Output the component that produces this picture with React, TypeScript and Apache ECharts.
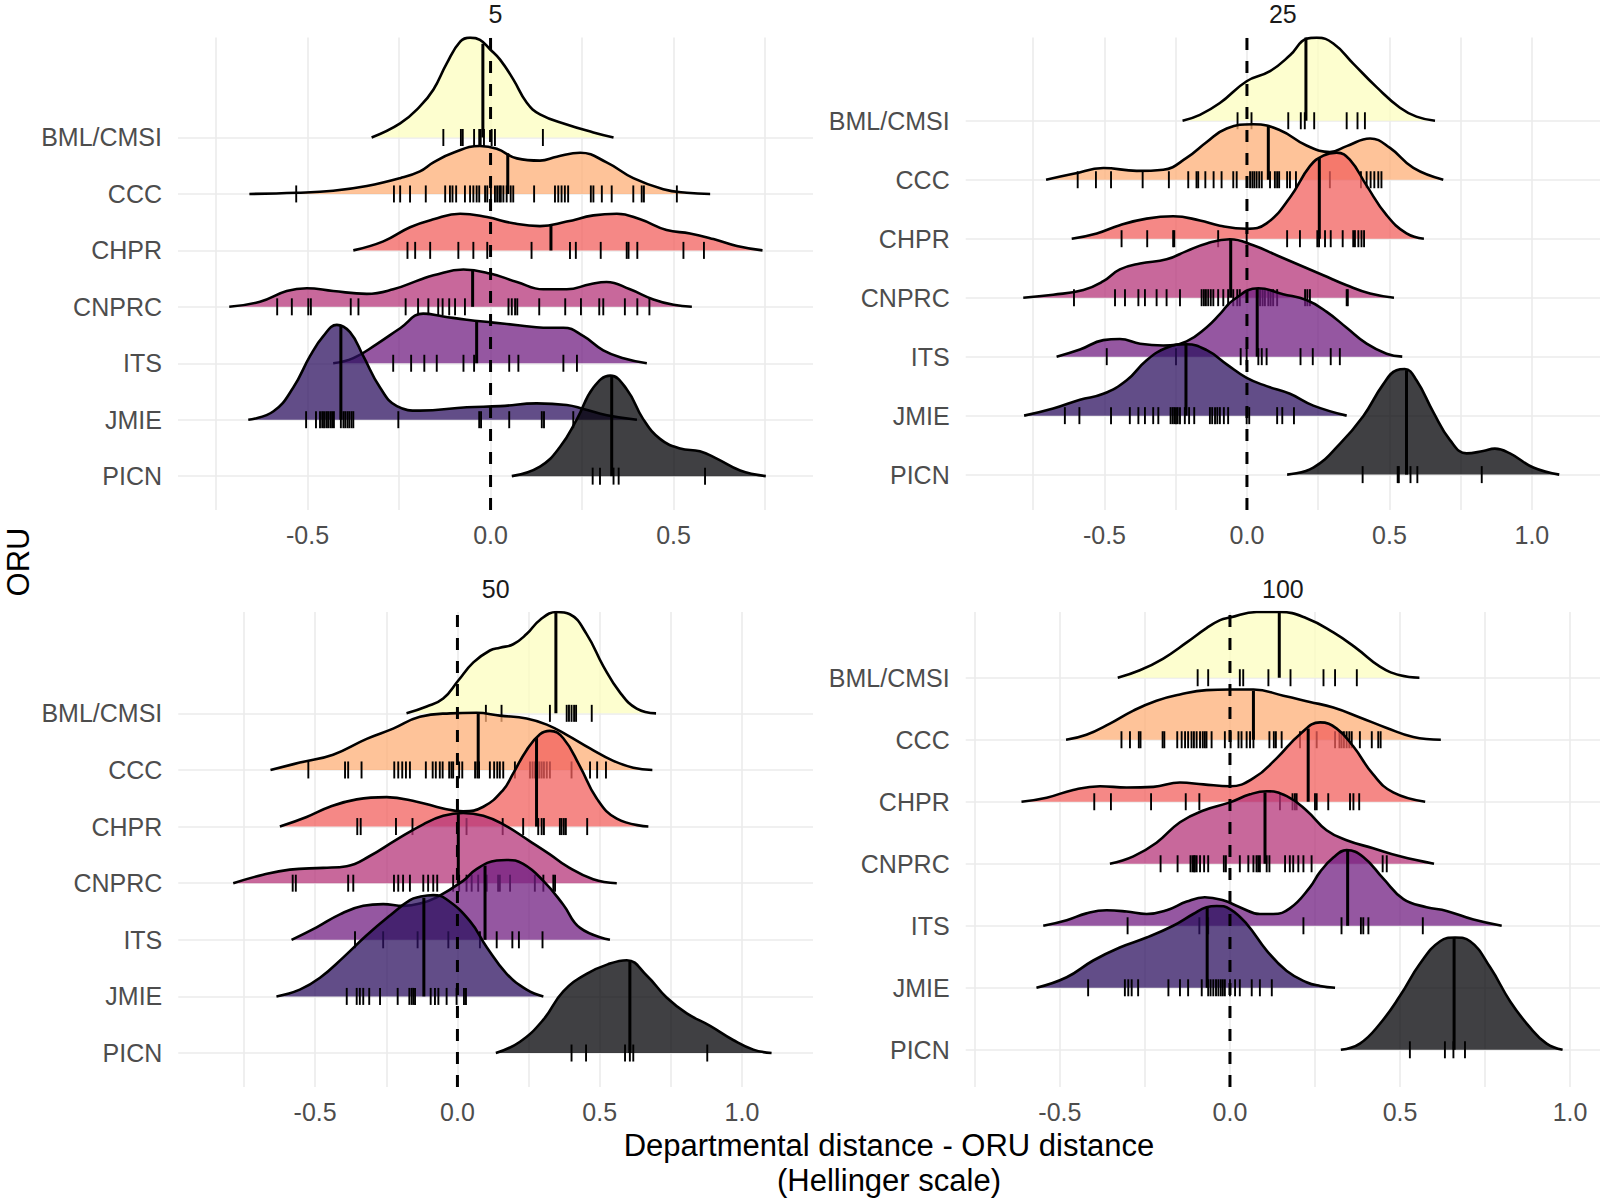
import React, { useEffect, useRef } from "react";
import * as echarts from "echarts";

// ---------- categories / palette ----------
const ORUS = ["BML/CMSI", "CCC", "CHPR", "CNPRC", "ITS", "JMIE", "PICN"];
const FILLS = ["#FCFDBF", "#FEAF77", "#F1605D", "#B63679", "#721F81", "#2D1160", "#000004"];
const PANEL_TITLES = ["5", "25", "50", "100"];
const X_TITLE = ["Departmental distance - ORU distance", "(Hellinger scale)"];
const Y_TITLE = "ORU";
const TICKS_A = [-0.5, 0, 0.5];
const TICKS_B = [-0.5, 0, 0.5, 1];
const GRID_A = [-0.75, -0.5, -0.25, 0, 0.25, 0.5, 0.75];
const GRID_B = [-0.75, -0.5, -0.25, 0, 0.25, 0.5, 0.75, 1];

// ---------- panel "5": density heights (in ridge rows) ----------
const d5_BML = [[-0.325,0],[-0.247,0.25],[-0.193,0.55],[-0.156,0.85],[-0.12,1.31],[-0.083,1.7],[-0.056,1.77],[-0.029,1.73],[-0.001,1.56],[0.026,1.38],[0.062,1.03],[0.099,0.615],[0.135,0.41],[0.208,0.23],[0.281,0.09],[0.336,0]];
const d5_CCC = [[-0.659,0],[-0.53,0.02],[-0.43,0.056],[-0.338,0.14],[-0.247,0.28],[-0.193,0.4],[-0.156,0.56],[-0.102,0.73],[-0.029,0.85],[0.017,0.8],[0.072,0.63],[0.135,0.59],[0.181,0.66],[0.245,0.73],[0.317,0.56],[0.39,0.28],[0.472,0.084],[0.536,0.02],[0.6,0]];
const d5_CHPR = [[-0.375,0],[-0.293,0.16],[-0.22,0.41],[-0.156,0.55],[-0.083,0.65],[-0.01,0.59],[0.062,0.48],[0.135,0.43],[0.208,0.51],[0.281,0.62],[0.345,0.65],[0.409,0.55],[0.481,0.36],[0.545,0.3],[0.609,0.2],[0.673,0.077],[0.743,0]];
const d5_CNPRC = [[-0.714,0],[-0.63,0.09],[-0.557,0.28],[-0.502,0.33],[-0.43,0.28],[-0.338,0.23],[-0.266,0.31],[-0.193,0.48],[-0.156,0.56],[-0.074,0.66],[-0.001,0.59],[0.072,0.44],[0.144,0.31],[0.208,0.31],[0.272,0.4],[0.317,0.44],[0.381,0.31],[0.445,0.13],[0.5,0.035],[0.55,0]];
const d5_ITS = [[-0.43,0],[-0.375,0.09],[-0.311,0.34],[-0.247,0.62],[-0.184,0.88],[-0.129,0.83],[-0.065,0.77],[0.008,0.72],[0.081,0.67],[0.144,0.63],[0.199,0.63],[0.254,0.48],[0.308,0.23],[0.363,0.09],[0.427,0]];
const d5_JMIE = [[-0.662,0],[-0.593,0.15],[-0.539,0.57],[-0.493,1.13],[-0.457,1.48],[-0.42,1.68],[-0.384,1.55],[-0.348,1.13],[-0.302,0.57],[-0.256,0.24],[-0.193,0.16],[-0.065,0.22],[0.026,0.24],[0.126,0.29],[0.208,0.26],[0.254,0.19],[0.318,0.08],[0.4,0]];
const d5_PICN = [[0.058,0],[0.135,0.17],[0.19,0.52],[0.236,1.01],[0.281,1.57],[0.327,1.78],[0.372,1.54],[0.417,1.01],[0.463,0.66],[0.518,0.49],[0.572,0.44],[0.618,0.31],[0.682,0.1],[0.752,0]];
const med5 = [[-0.021,1.66],[0.047,0.72],[0.165,0.43],[-0.049,0.66],[-0.038,0.74],[-0.409,1.68],[0.331,1.78]];
const r5_BML = [-0.129,-0.081,-0.076,-0.045,-0.031,-0.027,-0.018,0.003,0.012,0.143];
const r5_CCC = [-0.531,-0.264,-0.247,-0.22,-0.177,-0.124,-0.111,-0.104,-0.094,-0.07,-0.056,-0.047,-0.038,-0.031,-0.015,-0.009,0.001,0.012,0.018,0.024,0.028,0.035,0.044,0.055,0.062,0.119,0.176,0.185,0.194,0.203,0.212,0.274,0.281,0.304,0.331,0.39,0.413,0.419,0.509];
const r5_CHPR = [-0.227,-0.206,-0.165,-0.088,-0.047,-0.009,0.112,0.217,0.233,0.301,0.372,0.377,0.401,0.527,0.583];
const r5_CNPRC = [-0.583,-0.543,-0.498,-0.491,-0.382,-0.361,-0.232,-0.198,-0.17,-0.143,-0.131,-0.113,-0.097,-0.07,0.049,0.058,0.067,0.073,0.133,0.204,0.247,0.297,0.308,0.367,0.401,0.434];
const r5_ITS = [-0.266,-0.217,-0.181,-0.147,-0.074,-0.045,0.051,0.076,0.199,0.236];
const r5_JMIE = [-0.504,-0.477,-0.466,-0.46,-0.455,-0.449,-0.444,-0.438,-0.433,-0.428,-0.409,-0.402,-0.397,-0.391,-0.386,-0.38,-0.375,-0.252,-0.031,-0.026,0.051,0.14,0.146,0.226];
const r5_PICN = [0.279,0.299,0.336,0.35,0.586];

// ---------- panel "25" ----------
const d25_BML = [[-0.226,0],[-0.165,0.1],[-0.095,0.3],[-0.001,0.67],[0.081,0.84],[0.151,1.11],[0.209,1.39],[0.245,1.41],[0.303,1.31],[0.373,0.97],[0.455,0.57],[0.537,0.22],[0.595,0.07],[0.66,0]];
const d25_CCC = [[-0.705,0],[-0.609,0.1],[-0.504,0.2],[-0.387,0.15],[-0.294,0.17],[-0.212,0.37],[-0.141,0.64],[-0.071,0.87],[0.022,0.94],[0.116,0.84],[0.209,0.58],[0.291,0.47],[0.35,0.57],[0.432,0.7],[0.502,0.54],[0.584,0.2],[0.689,0]];
const d25_CHPR = [[-0.615,0],[-0.527,0.09],[-0.446,0.23],[-0.352,0.34],[-0.259,0.38],[-0.165,0.31],[-0.095,0.22],[-0.001,0.17],[0.069,0.26],[0.151,0.7],[0.221,1.23],[0.268,1.41],[0.315,1.46],[0.361,1.34],[0.42,0.9],[0.49,0.4],[0.56,0.09],[0.621,0]];
const d25_CNPRC = [[-0.785,0],[-0.68,0.05],[-0.574,0.13],[-0.504,0.28],[-0.446,0.48],[-0.375,0.58],[-0.282,0.65],[-0.212,0.79],[-0.141,0.92],[-0.06,0.99],[0.022,0.89],[0.104,0.72],[0.186,0.55],[0.268,0.38],[0.35,0.21],[0.432,0.07],[0.516,0]];
const d25_ITS = [[-0.668,0],[-0.586,0.12],[-0.504,0.28],[-0.446,0.3],[-0.375,0.22],[-0.294,0.19],[-0.212,0.26],[-0.141,0.5],[-0.095,0.72],[-0.048,0.96],[0.04,1.16],[0.127,1.06],[0.209,0.96],[0.28,0.76],[0.35,0.49],[0.42,0.22],[0.49,0.05],[0.545,0]];
const d25_JMIE = [[-0.782,0],[-0.68,0.12],[-0.586,0.27],[-0.504,0.37],[-0.422,0.6],[-0.352,0.94],[-0.282,1.15],[-0.212,1.21],[-0.141,1.11],[-0.071,0.87],[-0.001,0.64],[0.069,0.5],[0.151,0.37],[0.233,0.17],[0.35,0]];
const d25_PICN = [[0.141,0],[0.233,0.12],[0.326,0.52],[0.408,0.99],[0.478,1.53],[0.525,1.77],[0.554,1.79],[0.595,1.6],[0.654,1.06],[0.712,0.59],[0.771,0.36],[0.829,0.4],[0.87,0.44],[0.923,0.36],[1.005,0.12],[1.096,0]];
const med25 = [[0.207,1.41],[0.075,0.9],[0.254,1.37],[-0.057,0.99],[0.036,1.15],[-0.214,1.21],[0.56,1.77]];
const r25_BML = [-0.033,0.016,0.145,0.189,0.203,0.236,0.35,0.388,0.414];
const r25_CCC = [-0.594,-0.53,-0.477,-0.366,-0.274,-0.206,-0.177,-0.171,-0.146,-0.117,-0.089,-0.048,-0.036,0.011,0.019,0.026,0.034,0.043,0.052,0.081,0.098,0.106,0.113,0.141,0.151,0.172,0.254,0.291,0.4,0.42,0.434,0.447,0.461,0.472];
const r25_CHPR = [-0.44,-0.35,-0.259,-0.255,-0.101,-0.001,0.141,0.186,0.247,0.253,0.274,0.294,0.336,0.373,0.379,0.391,0.402,0.411];
const r25_CNPRC = [-0.607,-0.463,-0.428,-0.381,-0.358,-0.317,-0.282,-0.235,-0.159,-0.151,-0.144,-0.136,-0.127,-0.118,-0.101,-0.083,-0.066,-0.048,-0.034,-0.025,0.046,0.055,0.063,0.075,0.083,0.092,0.106,0.204,0.212,0.221,0.35,0.354];
const r25_ITS = [-0.492,-0.249,-0.022,-0.001,0.04,0.052,0.069,0.188,0.231,0.294,0.326];
const r25_JMIE = [-0.639,-0.588,-0.477,-0.411,-0.381,-0.358,-0.329,-0.311,-0.268,-0.261,-0.255,-0.249,-0.243,-0.235,-0.218,-0.203,-0.185,-0.13,-0.122,-0.112,-0.104,-0.095,-0.081,-0.066,-0.001,0.008,0.106,0.124,0.165];
const r25_PICN = [0.406,0.529,0.533,0.574,0.598,0.824];

// ---------- panel "50" ----------
const d50_BML = [[-0.179,0],[-0.108,0.12],[-0.05,0.26],[0.003,0.58],[0.056,0.9],[0.114,1.11],[0.149,1.16],[0.196,1.22],[0.243,1.4],[0.29,1.65],[0.349,1.79],[0.395,1.75],[0.454,1.4],[0.513,0.83],[0.571,0.37],[0.63,0.085],[0.698,0]];
const d50_CCC = [[-0.657,0],[-0.554,0.13],[-0.437,0.27],[-0.319,0.55],[-0.226,0.73],[-0.132,0.94],[-0.026,1.0],[0.067,1.01],[0.149,0.96],[0.243,0.91],[0.314,0.8],[0.384,0.62],[0.466,0.38],[0.548,0.16],[0.618,0.04],[0.685,0]];
const d50_CHPR = [[-0.624,0],[-0.53,0.17],[-0.448,0.35],[-0.354,0.48],[-0.249,0.52],[-0.143,0.44],[-0.05,0.32],[0.02,0.27],[0.091,0.35],[0.161,0.65],[0.196,0.94],[0.243,1.35],[0.29,1.63],[0.325,1.69],[0.372,1.56],[0.431,1.06],[0.489,0.5],[0.56,0.14],[0.671,0]];
const d50_CNPRC = [[-0.788,0],[-0.683,0.15],[-0.589,0.24],[-0.472,0.27],[-0.389,0.3],[-0.308,0.48],[-0.214,0.77],[-0.12,1.04],[-0.05,1.19],[0.02,1.24],[0.091,1.19],[0.161,1.04],[0.255,0.74],[0.325,0.51],[0.384,0.3],[0.477,0.07],[0.56,0]];
const d50_ITS = [[-0.583,0],[-0.495,0.22],[-0.413,0.45],[-0.331,0.6],[-0.261,0.63],[-0.19,0.6],[-0.132,0.64],[-0.073,0.75],[0.02,1.04],[0.067,1.25],[0.138,1.4],[0.173,1.41],[0.231,1.34],[0.302,1.04],[0.372,0.62],[0.431,0.21],[0.536,0]];
const d50_JMIE = [[-0.636,0],[-0.554,0.12],[-0.483,0.33],[-0.401,0.69],[-0.319,1.08],[-0.237,1.43],[-0.167,1.7],[-0.132,1.76],[-0.085,1.79],[-0.04,1.72],[0.044,1.33],[0.103,0.87],[0.173,0.4],[0.243,0.12],[0.302,0]];
const d50_PICN = [[0.135,0],[0.22,0.2],[0.302,0.59],[0.372,1.09],[0.454,1.4],[0.536,1.58],[0.595,1.64],[0.665,1.37],[0.735,0.98],[0.806,0.7],[0.888,0.48],[0.969,0.23],[1.04,0.06],[1.104,0]];
const med50 = [[0.346,1.79],[0.073,0.99],[0.278,1.57],[0.003,1.22],[0.097,1.31],[-0.118,1.74],[0.606,1.62]];
const r50_BML = [0.1,0.155,0.325,0.384,0.392,0.401,0.41,0.417,0.472];
const r50_CCC = [-0.524,-0.395,-0.384,-0.337,-0.222,-0.208,-0.194,-0.181,-0.167,-0.111,-0.087,-0.076,-0.062,-0.052,-0.029,-0.021,-0.015,0.006,0.017,0.062,0.07,0.076,0.114,0.129,0.14,0.149,0.161,0.202,0.255,0.264,0.272,0.281,0.288,0.296,0.304,0.314,0.325,0.401,0.466,0.491,0.522];
const r50_CHPR = [-0.352,-0.34,-0.216,-0.158,0.032,0.159,0.231,0.284,0.296,0.304,0.36,0.366,0.374,0.381,0.456];
const r50_CNPRC = [-0.579,-0.568,-0.384,-0.366,-0.223,-0.208,-0.191,-0.167,-0.12,-0.103,-0.085,-0.071,-0.015,0.006,0.032,0.05,0.073,0.103,0.143,0.149,0.185,0.272,0.302,0.337,0.343];
const r50_ITS = [-0.36,-0.261,-0.14,-0.032,0.079,0.138,0.193,0.216,0.299];
const r50_JMIE = [-0.389,-0.354,-0.343,-0.331,-0.31,-0.272,-0.21,-0.169,-0.161,-0.155,-0.149,-0.094,-0.079,-0.067,-0.038,-0.003,0.023,0.03];
const r50_PICN = [0.401,0.452,0.589,0.606,0.618,0.878];

// ---------- panel "100" ----------
const d100_BML = [[-0.33,0],[-0.265,0.12],[-0.196,0.31],[-0.127,0.57],[-0.069,0.8],[-0.029,0.93],[0,0.97],[0.078,1.06],[0.147,1.06],[0.225,0.96],[0.304,0.73],[0.373,0.47],[0.441,0.18],[0.5,0.04],[0.557,0]];
const d100_CCC = [[-0.482,0],[-0.422,0.08],[-0.353,0.26],[-0.284,0.47],[-0.216,0.63],[-0.147,0.73],[-0.069,0.8],[0,0.81],[0.069,0.81],[0.157,0.71],[0.235,0.61],[0.304,0.52],[0.382,0.36],[0.461,0.19],[0.539,0.045],[0.62,0]];
const d100_CHPR = [[-0.613,0],[-0.539,0.065],[-0.461,0.19],[-0.382,0.25],[-0.304,0.23],[-0.225,0.24],[-0.147,0.31],[-0.078,0.28],[0,0.25],[0.069,0.38],[0.137,0.7],[0.206,1.09],[0.265,1.28],[0.314,1.18],[0.363,0.89],[0.421,0.44],[0.48,0.15],[0.574,0]];
const d100_CNPRC = [[-0.353,0],[-0.284,0.12],[-0.216,0.34],[-0.147,0.67],[-0.078,0.86],[0,0.99],[0.059,1.12],[0.108,1.17],[0.167,1.09],[0.225,0.86],[0.284,0.54],[0.343,0.38],[0.421,0.25],[0.5,0.12],[0.6,0]];
const d100_ITS = [[-0.549,0],[-0.48,0.09],[-0.422,0.2],[-0.363,0.25],[-0.304,0.23],[-0.245,0.19],[-0.186,0.25],[-0.127,0.39],[-0.074,0.46],[-0.02,0.41],[0.029,0.3],[0.088,0.19],[0.127,0.19],[0.176,0.28],[0.235,0.62],[0.265,0.87],[0.304,1.1],[0.343,1.22],[0.392,1.11],[0.451,0.76],[0.51,0.43],[0.578,0.3],[0.637,0.24],[0.716,0.1],[0.799,0]];
const d100_JMIE = [[-0.569,0],[-0.48,0.17],[-0.402,0.44],[-0.324,0.65],[-0.245,0.81],[-0.167,1.0],[-0.108,1.19],[-0.069,1.3],[-0.039,1.32],[0,1.27],[0.049,1.03],[0.108,0.6],[0.167,0.27],[0.225,0.09],[0.265,0.03],[0.309,0]];
const d100_PICN = [[0.326,0],[0.382,0.1],[0.441,0.42],[0.5,0.87],[0.559,1.39],[0.618,1.75],[0.662,1.81],[0.706,1.75],[0.765,1.33],[0.824,0.78],[0.882,0.36],[0.931,0.1],[0.978,0]];
const med100 = [[0.145,1.06],[0.069,0.79],[0.23,1.18],[0.103,1.15],[0.346,1.22],[-0.067,1.3],[0.659,1.81]];
const r100_BML = [-0.095,-0.064,0.029,0.039,0.113,0.178,0.275,0.309,0.373];
const r100_CCC = [-0.319,-0.294,-0.268,-0.263,-0.198,-0.193,-0.155,-0.142,-0.132,-0.123,-0.113,-0.106,-0.098,-0.088,-0.08,-0.074,-0.069,-0.054,-0.015,0.002,0.025,0.034,0.049,0.059,0.069,0.116,0.129,0.135,0.152,0.206,0.255,0.309,0.322,0.328,0.335,0.343,0.351,0.358,0.382,0.417,0.436,0.443];
const r100_CHPR = [-0.399,-0.35,-0.232,-0.13,-0.09,0.147,0.184,0.191,0.196,0.25,0.255,0.289,0.353,0.363,0.38];
const r100_CNPRC = [-0.204,-0.154,-0.116,-0.11,-0.106,-0.103,-0.098,-0.088,-0.076,-0.064,-0.018,-0.012,0.029,0.054,0.069,0.078,0.083,0.088,0.108,0.116,0.162,0.176,0.186,0.201,0.216,0.24,0.449,0.461];
const r100_ITS = [-0.301,-0.09,-0.064,0.216,0.328,0.385,0.392,0.407,0.567];
const r100_JMIE = [-0.417,-0.309,-0.299,-0.289,-0.27,-0.181,-0.147,-0.123,-0.083,-0.064,-0.057,-0.049,-0.041,-0.034,-0.027,-0.021,-0.015,0,0.015,0.029,0.064,0.088,0.123];
const r100_PICN = [0.529,0.632,0.657,0.691];

// ---------- layout ----------
const FONT = "'Liberation Sans', Arial, Helvetica, sans-serif";
const Y_MIN = -0.6;
const PANELS = [
  { dens: [d5_BML, d5_CCC, d5_CHPR, d5_CNPRC, d5_ITS, d5_JMIE, d5_PICN], rugs: [r5_BML, r5_CCC, r5_CHPR, r5_CNPRC, r5_ITS, r5_JMIE, r5_PICN], meds: med5, xMin: -0.854, xMax: 0.881, ticks: TICKS_A, lines: GRID_A, left: 178, top: 37.6, width: 635, height: 472.4 },
  { dens: [d25_BML, d25_CCC, d25_CHPR, d25_CNPRC, d25_ITS, d25_JMIE, d25_PICN], rugs: [r25_BML, r25_CCC, r25_CHPR, r25_CNPRC, r25_ITS, r25_JMIE, r25_PICN], meds: med25, xMin: -0.987, xMax: 1.239, ticks: TICKS_B, lines: GRID_B, left: 965.7, top: 37.6, width: 634.3, height: 472.4 },
  { dens: [d50_BML, d50_CCC, d50_CHPR, d50_CNPRC, d50_ITS, d50_JMIE, d50_PICN], rugs: [r50_BML, r50_CCC, r50_CHPR, r50_CNPRC, r50_ITS, r50_JMIE, r50_PICN], meds: med50, xMin: -0.981, xMax: 1.2496, ticks: TICKS_B, lines: GRID_B, left: 178.3, top: 612, width: 634.7, height: 475 },
  { dens: [d100_BML, d100_CCC, d100_CHPR, d100_CNPRC, d100_ITS, d100_JMIE, d100_PICN], rugs: [r100_BML, r100_CCC, r100_CHPR, r100_CNPRC, r100_ITS, r100_JMIE, r100_PICN], meds: med100, xMin: -0.777, xMax: 1.088, ticks: TICKS_B, lines: GRID_B, left: 965.7, top: 612, width: 634.3, height: 475 },
];

function buildOption() {
  const grid: any[] = [];
  const xAxis: any[] = [];
  const yAxis: any[] = [];
  const series: any[] = [];
  const graphic: any[] = [];
  const rows = ORUS.map((_, i) => ORUS.length - 1 - i);

  PANELS.forEach((p, pi) => {
    const yMax = Math.max(...p.dens.map((d, i) => rows[i] + Math.max(...d.map((q) => q[1]))));
    grid.push({ left: p.left, top: p.top, width: p.width, height: p.height });
    xAxis.push({
      type: "value", gridIndex: pi, min: p.xMin, max: p.xMax,
      axisLine: { show: false },
      axisTick: { show: false, customValues: p.lines },
      splitLine: { show: true, lineStyle: { color: "#EBEBEB", width: 1.6 } },
      axisLabel: { customValues: p.ticks, formatter: (v: number) => v.toFixed(1), fontSize: 25, color: "#4D4D4D", margin: 12, fontFamily: FONT },
    });
    yAxis.push({
      type: "value", gridIndex: pi, min: Y_MIN, max: yMax,
      axisLine: { show: false },
      axisTick: { show: false, customValues: rows.slice().reverse() },
      splitLine: { show: true, lineStyle: { color: "#EBEBEB", width: 1.6 } },
      axisLabel: { customValues: rows.slice().reverse(), formatter: (v: number) => ORUS[ORUS.length - 1 - Math.round(v)], fontSize: 25, color: "#4D4D4D", margin: 16, fontFamily: FONT },
    });
    p.dens.forEach((d, i) => {
      const base = rows[i];
      const z = 2 + i;
      series.push({
        type: "line", xAxisIndex: pi, yAxisIndex: pi, z, silent: true,
        data: d.map(([x, h]) => [x, base + h]),
        smooth: 0.45, smoothConstraint: false, symbol: "none",
        lineStyle: { color: "#000", width: 2.6, join: "round" },
        areaStyle: { color: FILLS[i], opacity: 0.75, origin: base },
      });
      const [m, mh] = p.meds[i];
      series.push({
        type: "line", xAxisIndex: pi, yAxisIndex: pi, z, silent: true,
        data: [[m, base], [m, base + mh]], symbol: "none",
        lineStyle: { color: "#000", width: 3 },
      });
      series.push({
        type: "scatter", xAxisIndex: pi, yAxisIndex: pi, z, silent: true,
        data: p.rugs[i].map((x) => [x, base]),
        symbol: "rect", symbolSize: [1.9, 17],
        itemStyle: { color: "#000", opacity: 1 },
      });
    });
    series.push({
      type: "line", xAxisIndex: pi, yAxisIndex: pi, z: 20, silent: true,
      data: [[0, Y_MIN], [0, yMax]], symbol: "none",
      lineStyle: { color: "#000", width: 3, type: [12, 11] },
    });
    graphic.push({
      type: "text", x: p.left + p.width / 2, y: pi < 2 ? 13.8 : 588.5,
      style: { text: PANEL_TITLES[pi], font: `25px ${FONT}`, fill: "#1A1A1A", textAlign: "center", verticalAlign: "middle" },
    });
  });

  graphic.push({
    type: "text", x: 18, y: 562, rotation: Math.PI / 2,
    style: { text: Y_TITLE, font: `31px ${FONT}`, fill: "#000", textAlign: "center", verticalAlign: "middle" },
  });
  X_TITLE.forEach((t, k) => {
    graphic.push({
      type: "text", x: 889, y: 1145.6 + k * 35,
      style: { text: t, font: `31px ${FONT}`, fill: "#000", textAlign: "center", verticalAlign: "middle" },
    });
  });

  return {
    animation: false,
    backgroundColor: "#ffffff",
    textStyle: { fontFamily: FONT },
    grid, xAxis, yAxis, series, graphic,
  };
}

export default function App() {
  const ref = useRef<HTMLDivElement>(null);
  useEffect(() => {
    if (!ref.current) return;
    const chart = echarts.init(ref.current, null, { renderer: "svg" });
    chart.setOption(buildOption() as any);
    return () => chart.dispose();
  }, []);
  return (
    <div
      ref={ref}
      style={{ position: "absolute", left: 0, top: 0, width: 1603, height: 1199, background: "#fff" }}
    />
  );
}
